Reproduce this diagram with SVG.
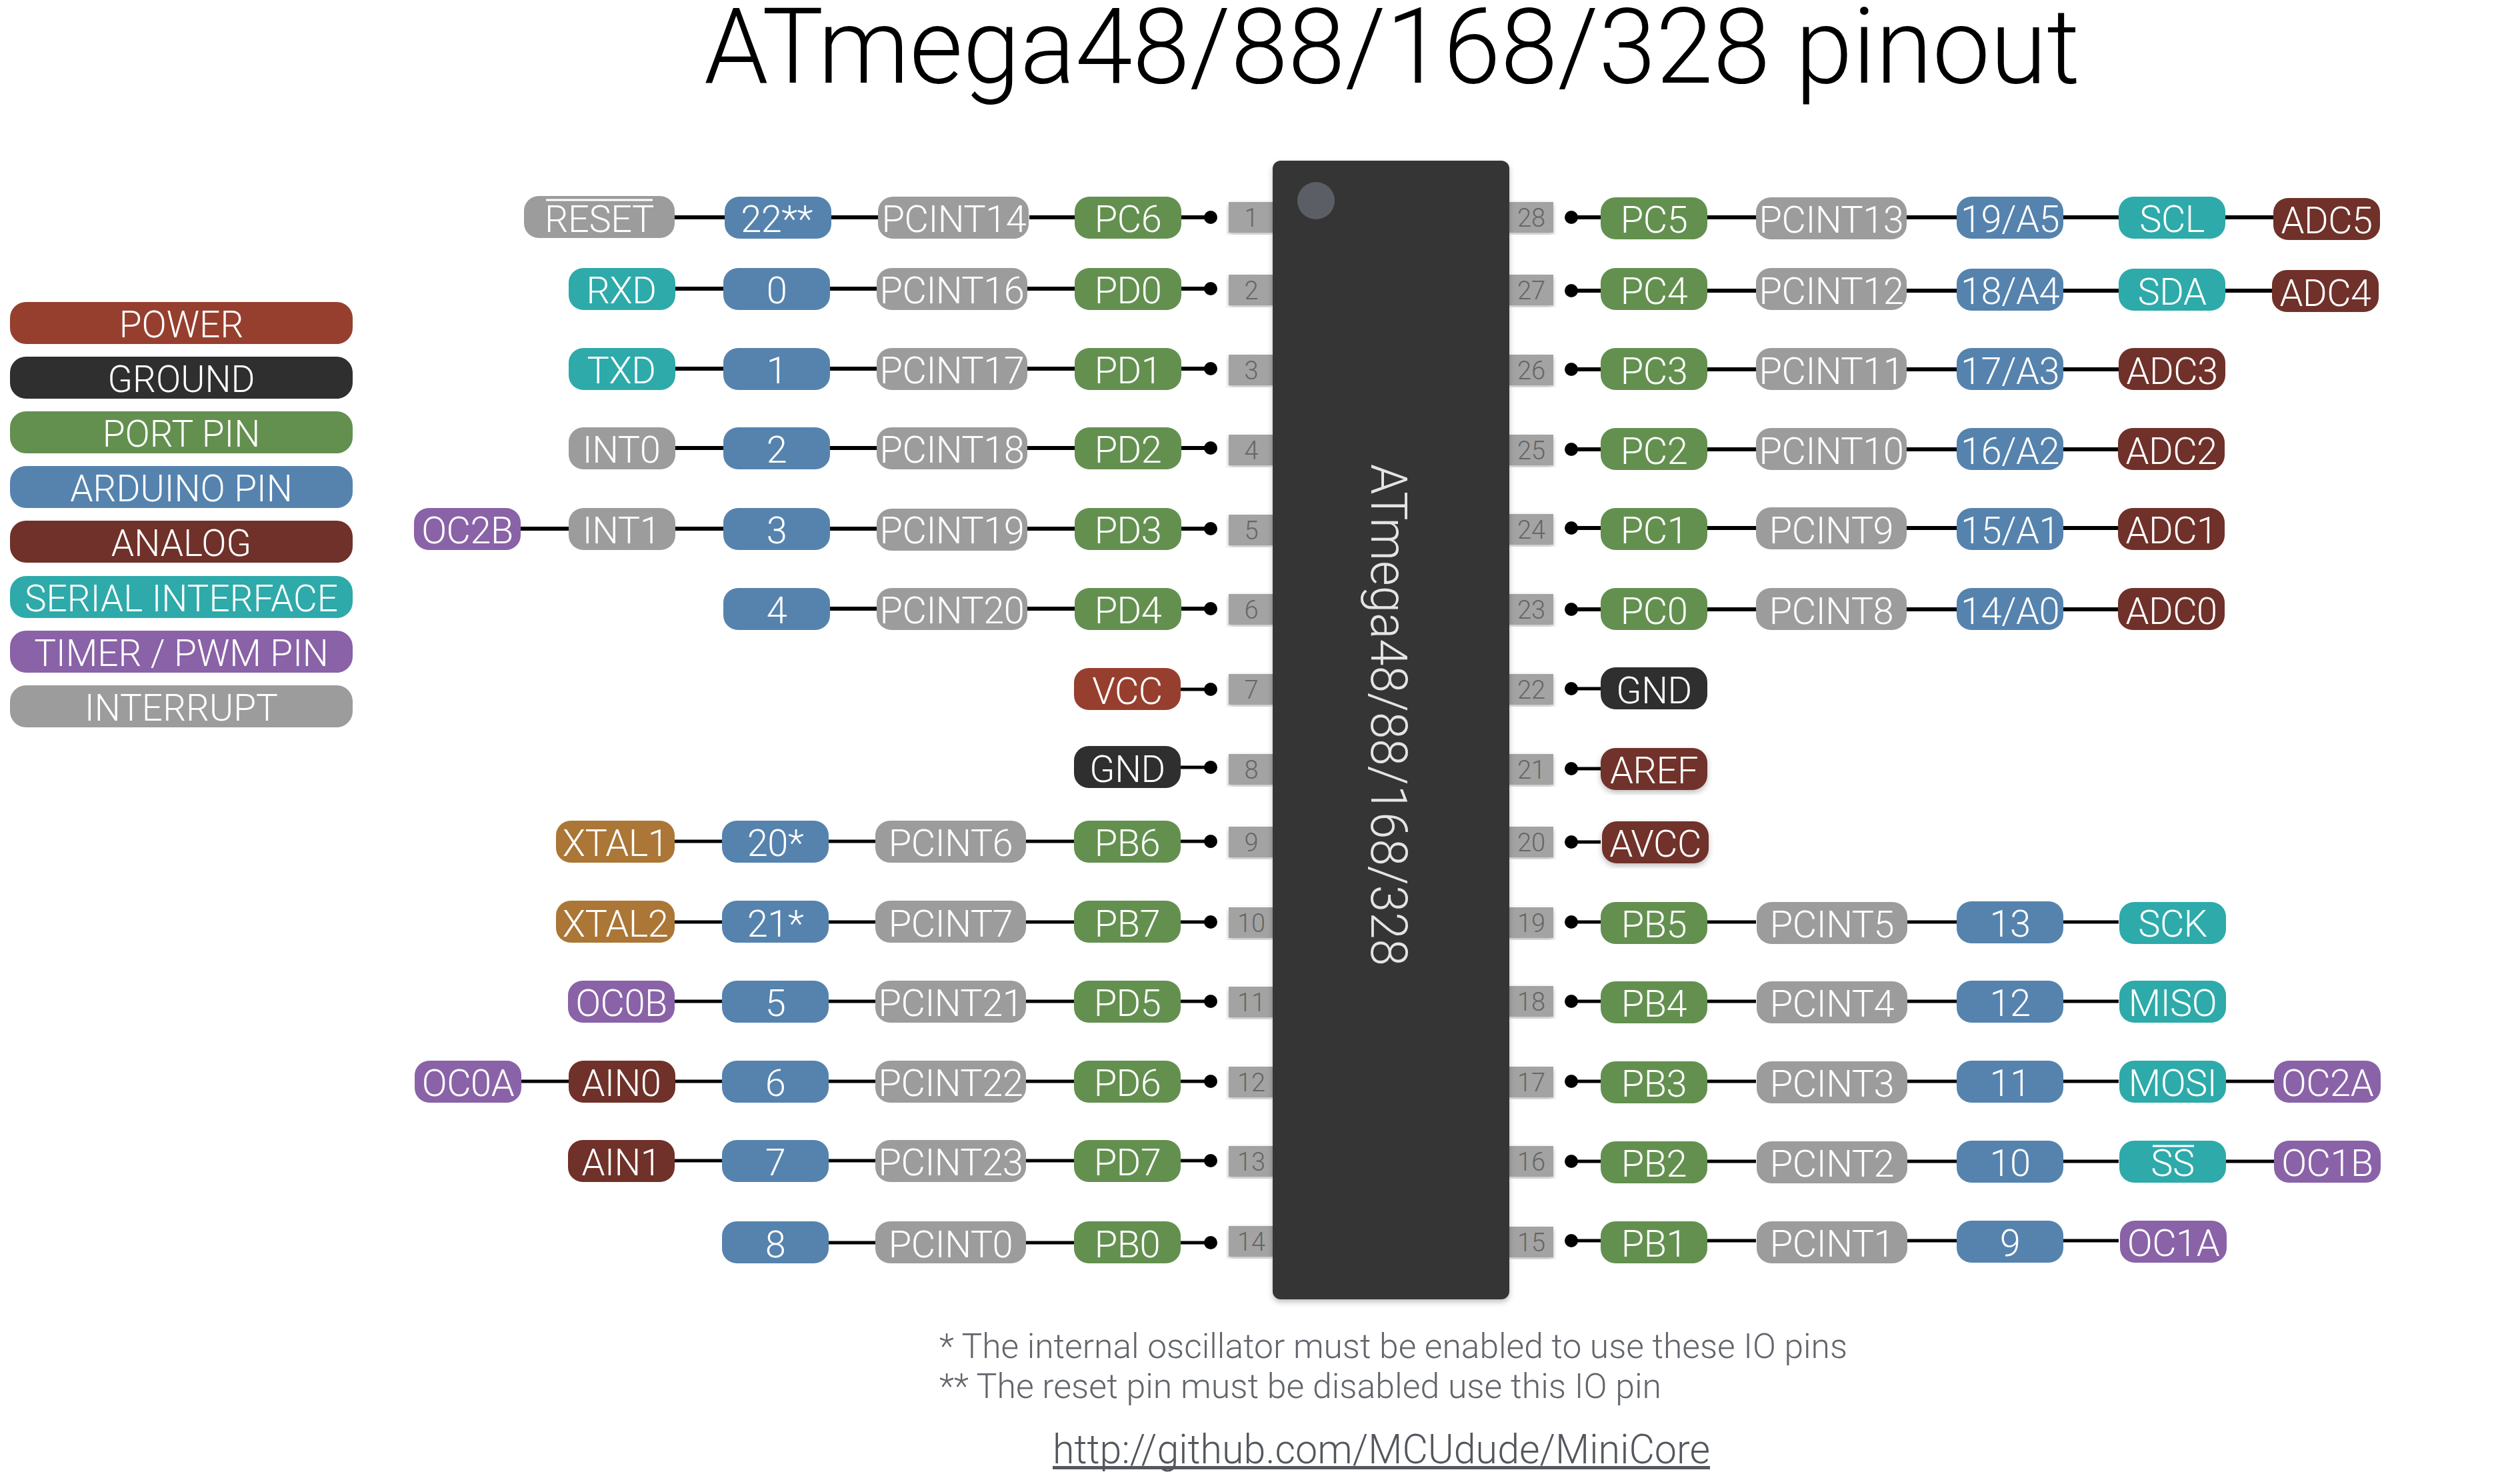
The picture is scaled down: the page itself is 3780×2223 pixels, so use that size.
<svg xmlns="http://www.w3.org/2000/svg" width="3780" height="2223" viewBox="0 0 3780 2223">
<style>
text{font-family:"Roboto","Liberation Sans",sans-serif;font-weight:300}
.n rect{height:63px;rx:22px;ry:22px}
.n text,.leg text{fill:#fff;font-size:56px;text-anchor:middle}
.n text{letter-spacing:-.5px;transform:translateY(2px)}
.leg rect{height:63px;rx:24px;ry:24px;width:514px}
.leg text{font-size:55px;transform:translateY(1px)}
.pin rect{fill:#a3a3a3;width:66px;height:46px}
.pin text{fill:#666;font-size:38px;text-anchor:middle}
.red{fill:#973f2f}.blk{fill:#2f2f2f}.grn{fill:#63904f}.blu{fill:#5583ae}.ana{fill:#6f3129}.ser{fill:#2eaaaa}.tim{fill:#8a62a7}.int{fill:#9c9c9c}.xt{fill:#ab7636}
.w160{width:160px}.w226{width:226px}.w178{width:178px}
.c path{stroke:#000;stroke-width:6;fill:none;marker-end:url(#dot)}
.c path.t{stroke-width:5}
.ov{stroke:#fff;stroke-width:3}
.note{fill:#62656b;font-size:52px}
</style>
<defs>
<marker id="dot" markerUnits="userSpaceOnUse" markerWidth="24" markerHeight="24" refX="12" refY="12"><circle cx="12" cy="12" r="10" fill="#000"/></marker>
<filter id="sh" x="-5%" y="-5%" width="110%" height="110%"><feDropShadow dx="0" dy="4" stdDeviation="4" flood-color="#000" flood-opacity=".25"/></filter>
</defs>
<rect width="3780" height="2223" fill="#fff"/>
<text id="title" x="1056" y="124" font-size="158" textLength="2064" lengthAdjust="spacingAndGlyphs">ATmega48/88/168/328 pinout</text>

<g id="legend" class="leg">
<g id="leg-power"><rect class="red" x="15" y="453"/><text x="272" y="505">POWER</text></g>
<g id="leg-ground"><rect class="blk" x="15" y="535"/><text x="272" y="587">GROUND</text></g>
<g id="leg-port"><rect class="grn" x="15" y="617"/><text x="272" y="669">PORT PIN</text></g>
<g id="leg-arduino"><rect class="blu" x="15" y="699"/><text x="272" y="751">ARDUINO PIN</text></g>
<g id="leg-analog"><rect class="ana" x="15" y="781"/><text x="272" y="833">ANALOG</text></g>
<g id="leg-serial"><rect class="ser" x="15" y="864"/><text x="272" y="916">SERIAL INTERFACE</text></g>
<g id="leg-timer"><rect class="tim" x="15" y="946"/><text x="272" y="998">TIMER / PWM PIN</text></g>
<g id="leg-int"><rect class="int" x="15" y="1028"/><text x="272" y="1080">INTERRUPT</text></g>
</g>

<g id="connectors" class="c">
<path d="M1012 326H1087M1247 326H1317M1544 326H1612M1772 326H1816"/>
<path d="M1012 433H1085M1245 433H1315M1541 433H1612M1772 433H1816"/>
<path d="M1012 553H1085M1245 553H1315M1541 553H1612M1772 553H1816"/>
<path d="M1012 672H1085M1245 672H1315M1541 672H1612M1772 672H1816"/>
<path d="M781 793H853M1012 793H1085M1245 793H1315M1541 793H1612M1772 793H1816"/>
<path d="M1245 913H1315M1541 913H1612M1772 913H1816"/>
<path class="t" d="M1771 1034H1816"/>
<path class="t" d="M1771 1151H1816"/>
<path class="t" d="M1012 1262H1083M1243 1262H1313M1539 1262H1611M1771 1262H1816"/>
<path class="t" d="M1012 1383H1083M1243 1383H1313M1539 1383H1611M1771 1383H1816"/>
<path class="t" d="M1012 1502H1083M1243 1502H1313M1539 1502H1611M1771 1502H1816"/>
<path class="t" d="M782 1622H853M1012 1622H1083M1243 1622H1313M1539 1622H1611M1771 1622H1816"/>
<path class="t" d="M1012 1741H1083M1243 1741H1313M1539 1741H1611M1771 1741H1816"/>
<path class="t" d="M1243 1864H1313M1539 1864H1611M1771 1864H1816"/>
<path d="M3410 326H3338M3178 326H3095M2935 326H2860M2634 326H2561M2401 326H2357"/>
<path d="M3410 436H3338M3178 436H3095M2935 436H2860M2634 436H2561M2401 436H2357"/>
<path d="M3178 554H3095M2935 554H2860M2634 554H2561M2401 554H2357"/>
<path d="M3178 674H3095M2935 674H2860M2634 674H2561M2401 674H2357"/>
<path d="M3178 792H3095M2935 792H2860M2634 792H2561M2401 792H2357"/>
<path d="M3178 914H3095M2935 914H2860M2634 914H2561M2401 914H2357"/>
<path class="t" d="M2401 1033H2357"/>
<path class="t" d="M2401 1153H2357"/>
<path class="t" d="M2401 1263H2357"/>
<path class="t" d="M3178 1383H3095M2935 1383H2860M2634 1383H2561M2401 1383H2357"/>
<path class="t" d="M3178 1502H3095M2935 1502H2860M2634 1502H2561M2401 1502H2357"/>
<path class="t" d="M3411 1622H3338M3178 1622H3095M2935 1622H2860M2634 1622H2561M2401 1622H2357"/>
<path class="t" d="M3411 1742H3338M3178 1742H3095M2935 1742H2860M2634 1742H2561M2401 1742H2357"/>
<path class="t" d="M3178 1861H3095M2935 1861H2860M2634 1861H2561M2401 1861H2357"/>
</g>

<g id="pins-left" class="pin">
<g id="pin1"><rect x="1843" y="303" filter="url(#sh)"/><text x="1877" y="340">1</text></g>
<g id="pin2"><rect x="1843" y="412" filter="url(#sh)"/><text x="1877" y="449">2</text></g>
<g id="pin3"><rect x="1843" y="532" filter="url(#sh)"/><text x="1877" y="569">3</text></g>
<g id="pin4"><rect x="1843" y="652" filter="url(#sh)"/><text x="1877" y="689">4</text></g>
<g id="pin5"><rect x="1843" y="772" filter="url(#sh)"/><text x="1877" y="809">5</text></g>
<g id="pin6"><rect x="1843" y="891" filter="url(#sh)"/><text x="1877" y="928">6</text></g>
<g id="pin7"><rect x="1843" y="1011" filter="url(#sh)"/><text x="1877" y="1048">7</text></g>
<g id="pin8"><rect x="1843" y="1131" filter="url(#sh)"/><text x="1877" y="1168">8</text></g>
<g id="pin9"><rect x="1843" y="1240" filter="url(#sh)"/><text x="1877" y="1277">9</text></g>
<g id="pin10"><rect x="1843" y="1361" filter="url(#sh)"/><text x="1877" y="1398">10</text></g>
<g id="pin11"><rect x="1843" y="1480" filter="url(#sh)"/><text x="1877" y="1517">11</text></g>
<g id="pin12"><rect x="1843" y="1600" filter="url(#sh)"/><text x="1877" y="1637">12</text></g>
<g id="pin13"><rect x="1843" y="1719" filter="url(#sh)"/><text x="1877" y="1756">13</text></g>
<g id="pin14"><rect x="1843" y="1839" filter="url(#sh)"/><text x="1877" y="1876">14</text></g>
</g>
<g id="pins-right" class="pin">
<g id="pin28"><rect x="2264" y="303" filter="url(#sh)"/><text x="2297" y="340">28</text></g>
<g id="pin27"><rect x="2264" y="412" filter="url(#sh)"/><text x="2297" y="449">27</text></g>
<g id="pin26"><rect x="2264" y="532" filter="url(#sh)"/><text x="2297" y="569">26</text></g>
<g id="pin25"><rect x="2264" y="652" filter="url(#sh)"/><text x="2297" y="689">25</text></g>
<g id="pin24"><rect x="2264" y="771" filter="url(#sh)"/><text x="2297" y="808">24</text></g>
<g id="pin23"><rect x="2264" y="891" filter="url(#sh)"/><text x="2297" y="928">23</text></g>
<g id="pin22"><rect x="2264" y="1011" filter="url(#sh)"/><text x="2297" y="1048">22</text></g>
<g id="pin21"><rect x="2264" y="1131" filter="url(#sh)"/><text x="2297" y="1168">21</text></g>
<g id="pin20"><rect x="2264" y="1240" filter="url(#sh)"/><text x="2297" y="1277">20</text></g>
<g id="pin19"><rect x="2264" y="1361" filter="url(#sh)"/><text x="2297" y="1398">19</text></g>
<g id="pin18"><rect x="2264" y="1479" filter="url(#sh)"/><text x="2297" y="1516">18</text></g>
<g id="pin17"><rect x="2264" y="1600" filter="url(#sh)"/><text x="2297" y="1637">17</text></g>
<g id="pin16"><rect x="2264" y="1719" filter="url(#sh)"/><text x="2297" y="1756">16</text></g>
<g id="pin15"><rect x="2264" y="1840" filter="url(#sh)"/><text x="2297" y="1877">15</text></g>
</g>

<g id="chip">
<rect x="1909" y="241" width="355" height="1708" rx="12" fill="#363636" filter="url(#sh)"/>
<circle cx="1974" cy="301" r="28" fill="#5c5e66"/>
<text transform="translate(2057 696) rotate(90)" font-size="76" fill="#e4e4e4" textLength="753" lengthAdjust="spacingAndGlyphs">ATmega48/88/168/328</text>
</g>

<g id="left-nodes" class="n">
<g id="RESET"><rect class="int w226" x="786" y="294"/><text x="899" y="346">RESET</text><line class="ov" x1="819" y1="300" x2="979" y2="300"/></g>
<g id="D22"><rect class="blu w160" x="1087" y="295"/><text x="1165" y="346">22**</text></g>
<g id="PCINT14"><rect class="int w226" x="1317" y="295"/><text x="1431" y="346">PCINT14</text></g>
<g id="PC6"><rect class="grn w160" x="1612" y="295"/><text x="1692" y="346">PC6</text></g>

<g id="RXD"><rect class="ser w160" x="853" y="402"/><text x="932" y="453">RXD</text></g>
<g id="D0"><rect class="blu w160" x="1085" y="402"/><text x="1165" y="453">0</text></g>
<g id="PCINT16"><rect class="int w226" x="1315" y="402"/><text x="1428" y="453">PCINT16</text></g>
<g id="PD0"><rect class="grn w160" x="1612" y="402"/><text x="1692" y="453">PD0</text></g>

<g id="TXD"><rect class="ser w160" x="853" y="522"/><text x="932" y="573">TXD</text></g>
<g id="D1"><rect class="blu w160" x="1085" y="522"/><text x="1165" y="573">1</text></g>
<g id="PCINT17"><rect class="int w226" x="1315" y="522"/><text x="1428" y="573">PCINT17</text></g>
<g id="PD1"><rect class="grn w160" x="1612" y="522"/><text x="1692" y="573">PD1</text></g>

<g id="INT0"><rect class="int w160" x="853" y="641"/><text x="932" y="692">INT0</text></g>
<g id="D2"><rect class="blu w160" x="1085" y="641"/><text x="1165" y="692">2</text></g>
<g id="PCINT18"><rect class="int w226" x="1315" y="641"/><text x="1428" y="692">PCINT18</text></g>
<g id="PD2"><rect class="grn w160" x="1612" y="641"/><text x="1692" y="692">PD2</text></g>

<g id="OC2B"><rect class="tim w160" x="621" y="762"/><text x="701" y="813">OC2B</text></g>
<g id="INT1"><rect class="int w160" x="853" y="762"/><text x="932" y="813">INT1</text></g>
<g id="D3"><rect class="blu w160" x="1085" y="762"/><text x="1165" y="813">3</text></g>
<g id="PCINT19"><rect class="int w226" x="1315" y="763"/><text x="1428" y="813">PCINT19</text></g>
<g id="PD3"><rect class="grn w160" x="1612" y="762"/><text x="1692" y="813">PD3</text></g>

<g id="D4"><rect class="blu w160" x="1085" y="882"/><text x="1165" y="933">4</text></g>
<g id="PCINT20"><rect class="int w226" x="1315" y="882"/><text x="1428" y="933">PCINT20</text></g>
<g id="PD4"><rect class="grn w160" x="1612" y="882"/><text x="1692" y="933">PD4</text></g>

<g id="VCC"><rect class="red w160" x="1611" y="1002"/><text x="1691" y="1054">VCC</text></g>
<g id="GND1"><rect class="blk w160" x="1611" y="1119"/><text x="1691" y="1171">GND</text></g>

<g id="XTAL1"><rect class="xt w178" x="834" y="1231"/><text x="923" y="1282">XTAL1</text></g>
<g id="D20"><rect class="blu w160" x="1083" y="1231"/><text x="1163" y="1282">20*</text></g>
<g id="PCINT6"><rect class="int w226" x="1313" y="1231"/><text x="1426" y="1282">PCINT6</text></g>
<g id="PB6"><rect class="grn w160" x="1611" y="1231"/><text x="1691" y="1282">PB6</text></g>

<g id="XTAL2"><rect class="xt w178" x="834" y="1351"/><text x="923" y="1403">XTAL2</text></g>
<g id="D21"><rect class="blu w160" x="1083" y="1351"/><text x="1163" y="1403">21*</text></g>
<g id="PCINT7"><rect class="int w226" x="1313" y="1351"/><text x="1426" y="1403">PCINT7</text></g>
<g id="PB7"><rect class="grn w160" x="1611" y="1351"/><text x="1691" y="1403">PB7</text></g>

<g id="OC0B"><rect class="tim w160" x="852" y="1471"/><text x="932" y="1522">OC0B</text></g>
<g id="D5"><rect class="blu w160" x="1083" y="1471"/><text x="1163" y="1522">5</text></g>
<g id="PCINT21"><rect class="int w226" x="1313" y="1471"/><text x="1426" y="1522">PCINT21</text></g>
<g id="PD5"><rect class="grn w160" x="1611" y="1471"/><text x="1691" y="1522">PD5</text></g>

<g id="OC0A"><rect class="tim w160" x="622" y="1591"/><text x="702" y="1642">OC0A</text></g>
<g id="AIN0"><rect class="ana w160" x="853" y="1591"/><text x="932" y="1642">AIN0</text></g>
<g id="D6"><rect class="blu w160" x="1083" y="1591"/><text x="1163" y="1642">6</text></g>
<g id="PCINT22"><rect class="int w226" x="1313" y="1591"/><text x="1426" y="1642">PCINT22</text></g>
<g id="PD6"><rect class="grn w160" x="1611" y="1591"/><text x="1691" y="1642">PD6</text></g>

<g id="AIN1"><rect class="ana w160" x="852" y="1710"/><text x="932" y="1761">AIN1</text></g>
<g id="D7"><rect class="blu w160" x="1083" y="1710"/><text x="1163" y="1761">7</text></g>
<g id="PCINT23"><rect class="int w226" x="1313" y="1710"/><text x="1426" y="1761">PCINT23</text></g>
<g id="PD7"><rect class="grn w160" x="1611" y="1710"/><text x="1691" y="1761">PD7</text></g>

<g id="D8"><rect class="blu w160" x="1083" y="1832"/><text x="1163" y="1884">8</text></g>
<g id="PCINT0"><rect class="int w226" x="1313" y="1832"/><text x="1426" y="1884">PCINT0</text></g>
<g id="PB0"><rect class="grn w160" x="1611" y="1832"/><text x="1691" y="1884">PB0</text></g>
</g>

<g id="right-nodes" class="n">
<g id="PC5"><rect class="grn w160" x="2401" y="296"/><text x="2481" y="347">PC5</text></g>
<g id="PCINT13"><rect class="int w226" x="2634" y="296"/><text x="2747" y="347">PCINT13</text></g>
<g id="A5"><rect class="blu w160" x="2935" y="295"/><text x="3015" y="346">19/A5</text></g>
<g id="SCL"><rect class="ser w160" x="3178" y="295"/><text x="3258" y="346">SCL</text></g>
<g id="ADC5"><rect class="ana w160" x="3410" y="297"/><text x="3490" y="348">ADC5</text></g>

<g id="PC4"><rect class="grn w160" x="2401" y="402"/><text x="2481" y="454">PC4</text></g>
<g id="PCINT12"><rect class="int w226" x="2634" y="402"/><text x="2747" y="454">PCINT12</text></g>
<g id="A4"><rect class="blu w160" x="2935" y="403"/><text x="3015" y="454">18/A4</text></g>
<g id="SDA"><rect class="ser w160" x="3178" y="403"/><text x="3258" y="455">SDA</text></g>
<g id="ADC4"><rect class="ana w160" x="3408" y="405"/><text x="3488" y="457">ADC4</text></g>

<g id="PC3"><rect class="grn w160" x="2401" y="522"/><text x="2481" y="574">PC3</text></g>
<g id="PCINT11"><rect class="int w226" x="2634" y="522"/><text x="2747" y="574">PCINT11</text></g>
<g id="A3"><rect class="blu w160" x="2935" y="522"/><text x="3015" y="574">17/A3</text></g>
<g id="ADC3"><rect class="ana w160" x="3178" y="522"/><text x="3258" y="574">ADC3</text></g>

<g id="PC2"><rect class="grn w160" x="2401" y="642"/><text x="2481" y="694">PC2</text></g>
<g id="PCINT10"><rect class="int w226" x="2634" y="642"/><text x="2747" y="694">PCINT10</text></g>
<g id="A2"><rect class="blu w160" x="2935" y="642"/><text x="3015" y="694">16/A2</text></g>
<g id="ADC2"><rect class="ana w160" x="3177" y="642"/><text x="3257" y="694">ADC2</text></g>

<g id="PC1"><rect class="grn w160" x="2401" y="762"/><text x="2481" y="813">PC1</text></g>
<g id="PCINT9"><rect class="int w226" x="2634" y="761"/><text x="2747" y="813">PCINT9</text></g>
<g id="A1"><rect class="blu w160" x="2935" y="762"/><text x="3015" y="813">15/A1</text></g>
<g id="ADC1"><rect class="ana w160" x="3177" y="762"/><text x="3257" y="813">ADC1</text></g>

<g id="PC0"><rect class="grn w160" x="2401" y="882"/><text x="2481" y="934">PC0</text></g>
<g id="PCINT8"><rect class="int w226" x="2634" y="882"/><text x="2747" y="934">PCINT8</text></g>
<g id="A0"><rect class="blu w160" x="2935" y="882"/><text x="3015" y="934">14/A0</text></g>
<g id="ADC0"><rect class="ana w160" x="3177" y="882"/><text x="3257" y="934">ADC0</text></g>

<g id="GND2"><rect class="blk w160" x="2401" y="1001"/><text x="2481" y="1053">GND</text></g>
<g id="AREF" filter="url(#sh)"><rect class="ana w160" x="2401" y="1122"/><text x="2481" y="1173">AREF</text></g>
<g id="AVCC" filter="url(#sh)"><rect class="ana w160" x="2403" y="1232"/><text x="2483" y="1283">AVCC</text></g>

<g id="PB5"><rect class="grn w160" x="2401" y="1353"/><text x="2481" y="1404">PB5</text></g>
<g id="PCINT5"><rect class="int w226" x="2635" y="1353"/><text x="2748" y="1404">PCINT5</text></g>
<g id="D13"><rect class="blu w160" x="2935" y="1352"/><text x="3015" y="1403">13</text></g>
<g id="SCK"><rect class="ser w160" x="3179" y="1353"/><text x="3259" y="1403">SCK</text></g>

<g id="PB4"><rect class="grn w160" x="2401" y="1472"/><text x="2481" y="1523">PB4</text></g>
<g id="PCINT4"><rect class="int w226" x="2635" y="1472"/><text x="2748" y="1523">PCINT4</text></g>
<g id="D12"><rect class="blu w160" x="2935" y="1471"/><text x="3015" y="1522">12</text></g>
<g id="MISO"><rect class="ser w160" x="3179" y="1471"/><text x="3259" y="1522">MISO</text></g>

<g id="PB3"><rect class="grn w160" x="2401" y="1592"/><text x="2481" y="1643">PB3</text></g>
<g id="PCINT3"><rect class="int w226" x="2635" y="1592"/><text x="2748" y="1643">PCINT3</text></g>
<g id="D11"><rect class="blu w160" x="2935" y="1591"/><text x="3015" y="1642">11</text></g>
<g id="MOSI"><rect class="ser w160" x="3179" y="1591"/><text x="3259" y="1642">MOSI</text></g>
<g id="OC2A"><rect class="tim w160" x="3411" y="1591"/><text x="3491" y="1642">OC2A</text></g>

<g id="PB2"><rect class="grn w160" x="2401" y="1712"/><text x="2481" y="1763">PB2</text></g>
<g id="PCINT2"><rect class="int w226" x="2635" y="1712"/><text x="2748" y="1763">PCINT2</text></g>
<g id="D10"><rect class="blu w160" x="2935" y="1711"/><text x="3015" y="1762">10</text></g>
<g id="SS"><rect class="ser w160" x="3179" y="1711"/><text x="3259" y="1762">SS</text><line class="ov" x1="3229" y1="1719" x2="3291" y2="1719"/></g>
<g id="OC1B"><rect class="tim w160" x="3411" y="1711"/><text x="3491" y="1762">OC1B</text></g>

<g id="PB1"><rect class="grn w160" x="2401" y="1832"/><text x="2481" y="1883">PB1</text></g>
<g id="PCINT1"><rect class="int w226" x="2635" y="1832"/><text x="2748" y="1883">PCINT1</text></g>
<g id="D9"><rect class="blu w160" x="2935" y="1831"/><text x="3015" y="1882">9</text></g>
<g id="OC1A"><rect class="tim w160" x="3180" y="1831"/><text x="3260" y="1882">OC1A</text></g>
</g>

<text class="note" x="1409" y="2037" textLength="1362" lengthAdjust="spacingAndGlyphs">* The internal oscillator must be enabled to use these IO pins</text>
<text class="note" x="1409" y="2097" textLength="1083" lengthAdjust="spacingAndGlyphs">** The reset pin must be disabled use this IO pin</text>
<text id="url" x="1579" y="2195" font-size="62" fill="#54575e" textLength="986" lengthAdjust="spacingAndGlyphs">http://github.com/MCUdude/MiniCore</text>
<rect id="url-underline" x="1579" y="2199" width="986" height="5" fill="#54575e"/>
</svg>
